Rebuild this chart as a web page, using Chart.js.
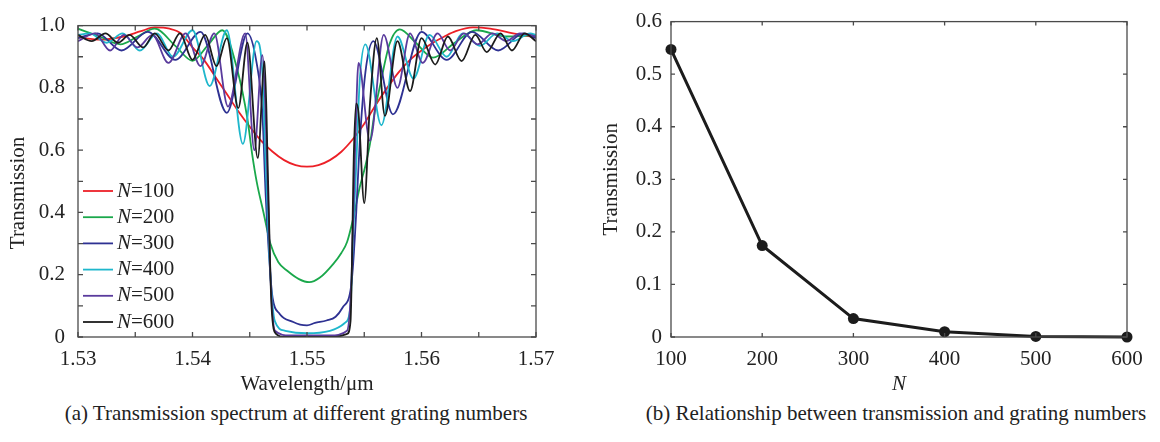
<!DOCTYPE html>
<html>
<head>
<meta charset="utf-8">
<script src="https://cdn.jsdelivr.net/npm/chart.js@4.4.1/dist/chart.umd.min.js"></script>
<style>
  body { margin: 0; background: #fff; width: 1160px; height: 442px; position: relative; overflow: hidden; font-family: "Liberation Serif", "Times New Roman", serif; }
  .panel { position: absolute; top: 0; width: 580px; height: 400px; }
  .cap { position: absolute; top: 401px; font-size: 21px; color: #222; white-space: nowrap; transform: translateX(-50%); }
</style>
</head>
<body>
<div class="panel" style="left:0"><canvas id="specChart" width="580" height="400"></canvas></div>
<div class="panel" style="left:580px"><canvas id="transChart" width="580" height="400"></canvas></div>
<div class="cap" style="left:296px">(a) Transmission spectrum at different grating numbers</div>
<div class="cap" style="left:896px">(b) Relationship between transmission and grating numbers</div>
<script>
// (a) spectra, wavelength in um
const wl100 = [1.5300, 1.5320, 1.5340, 1.5355, 1.5367, 1.5380, 1.5390, 1.5400, 1.5410, 1.5420, 1.5430, 1.5440, 1.5450, 1.5460, 1.5470, 1.5480, 1.5490, 1.5500, 1.5510, 1.5520, 1.5530, 1.5540, 1.5550, 1.5560, 1.5570, 1.5580, 1.5590, 1.5600, 1.5610, 1.5620, 1.5630, 1.5645, 1.5660, 1.5680, 1.5700];
const tr100 = [0.962, 0.955, 0.965, 0.982, 0.994, 0.990, 0.975, 0.930, 0.890, 0.835, 0.780, 0.725, 0.675, 0.630, 0.595, 0.568, 0.552, 0.547, 0.552, 0.568, 0.595, 0.635, 0.685, 0.745, 0.800, 0.850, 0.890, 0.920, 0.945, 0.965, 0.982, 0.994, 0.990, 0.975, 0.962];

const wl200 = [1.5300, 1.5319, 1.5337, 1.5352, 1.5367, 1.5385, 1.5400, 1.5414, 1.5426, 1.5439, 1.5448, 1.5452, 1.5456, 1.5462, 1.5468, 1.5475, 1.5483, 1.5493, 1.5502, 1.5511, 1.5523, 1.5530, 1.5535, 1.5540, 1.5546, 1.5551, 1.5555, 1.5559, 1.5564, 1.5572, 1.5581, 1.5595, 1.5610, 1.5629, 1.5648, 1.5674, 1.5700];
const tr200 = [0.990, 0.965, 0.940, 0.965, 0.990, 0.935, 0.887, 0.940, 0.985, 0.860, 0.700, 0.590, 0.500, 0.400, 0.300, 0.240, 0.212, 0.186, 0.176, 0.190, 0.235, 0.270, 0.305, 0.375, 0.480, 0.550, 0.620, 0.720, 0.810, 0.940, 0.988, 0.945, 0.897, 0.945, 0.985, 0.965, 0.970];

const wl300 = [1.5300, 1.5317, 1.5338, 1.5361, 1.5385, 1.5407, 1.5430, 1.5448, 1.5456, 1.5461, 1.5464, 1.5468, 1.5470, 1.5476, 1.5488, 1.5494, 1.5500, 1.5507, 1.5517, 1.5525, 1.5531, 1.5538, 1.5540, 1.5543, 1.5546, 1.5551, 1.5558, 1.5575, 1.5600, 1.5622, 1.5644, 1.5667, 1.5689, 1.5700];
const tr300 = [0.960, 0.975, 0.920, 0.980, 0.890, 0.980, 0.720, 0.975, 0.880, 0.720, 0.450, 0.200, 0.125, 0.075, 0.048, 0.040, 0.0375, 0.045, 0.053, 0.065, 0.094, 0.150, 0.220, 0.400, 0.620, 0.850, 0.950, 0.715, 0.980, 0.890, 0.980, 0.920, 0.975, 0.960];

const wl400 = [1.5300, 1.5310, 1.5325, 1.5339, 1.5354, 1.5369, 1.5383, 1.5400, 1.5415, 1.5430, 1.5444, 1.5456, 1.5461, 1.5464, 1.5468, 1.5472, 1.5481, 1.5500, 1.5520, 1.5533, 1.5538, 1.5540, 1.5543, 1.5546, 1.5551, 1.5565, 1.5579, 1.5593, 1.5607, 1.5622, 1.5636, 1.5651, 1.5666, 1.5680, 1.5695, 1.5700];
const tr400 = [0.970, 0.975, 0.945, 0.975, 0.920, 0.975, 0.900, 0.985, 0.806, 0.985, 0.620, 0.950, 0.850, 0.550, 0.200, 0.050, 0.020, 0.012, 0.020, 0.045, 0.100, 0.300, 0.550, 0.820, 0.940, 0.680, 0.965, 0.830, 0.970, 0.900, 0.975, 0.935, 0.975, 0.950, 0.975, 0.970];

const wl500 = [1.5300, 1.5315, 1.5328, 1.5340, 1.5352, 1.5365, 1.5379, 1.5394, 1.5407, 1.5419, 1.5431, 1.5446, 1.5454, 1.5461, 1.5464, 1.5468, 1.5472, 1.5485, 1.5520, 1.5535, 1.5539, 1.5542, 1.5545, 1.5555, 1.5567, 1.5579, 1.5590, 1.5601, 1.5614, 1.5625, 1.5637, 1.5649, 1.5662, 1.5674, 1.5686, 1.5700];
const tr500 = [0.950, 0.975, 0.920, 0.970, 0.930, 0.970, 0.880, 0.975, 0.870, 0.975, 0.740, 0.975, 0.600, 0.905, 0.700, 0.200, 0.020, 0.005, 0.005, 0.020, 0.200, 0.600, 0.880, 0.630, 0.970, 0.800, 0.975, 0.880, 0.975, 0.920, 0.975, 0.940, 0.975, 0.950, 0.975, 0.965];

const wl600 = [1.5300, 1.5312, 1.5324, 1.5335, 1.5345, 1.5357, 1.5367, 1.5379, 1.5389, 1.5400, 1.5411, 1.5421, 1.5430, 1.5440, 1.5448, 1.5457, 1.5463, 1.5466, 1.5469, 1.5473, 1.5481, 1.5524, 1.5535, 1.5538, 1.5541, 1.5543, 1.5545, 1.5550, 1.5555, 1.5561, 1.5568, 1.5579, 1.5590, 1.5600, 1.5612, 1.5623, 1.5635, 1.5647, 1.5657, 1.5669, 1.5679, 1.5690, 1.5700];
const tr600 = [0.970, 0.950, 0.975, 0.945, 0.970, 0.930, 0.975, 0.920, 0.975, 0.890, 0.970, 0.870, 0.960, 0.735, 0.945, 0.575, 0.885, 0.500, 0.100, 0.010, 0.000, 0.000, 0.010, 0.050, 0.600, 0.750, 0.720, 0.430, 0.750, 0.960, 0.710, 0.950, 0.790, 0.960, 0.875, 0.965, 0.886, 0.970, 0.915, 0.975, 0.920, 0.975, 0.950];

const seriesLabels = ['N=100', 'N=200', 'N=300', 'N=400', 'N=500', 'N=600'];
const seriesColors = ['#ec2027', '#1aa84b', '#2e3192', '#1fb7cc', '#5a3b9d', '#1c1c1c'];

// (b) transmission at the centre wavelength
const gratingN = [100, 200, 300, 400, 500, 600];
const centreT = [0.547, 0.174, 0.035, 0.010, 0.001, 0.000];

const xTicks = [1.53, 1.54, 1.55, 1.56, 1.57];

const FONT = '"Liberation Serif", "Times New Roman", serif';
const FS = 21;
const TXT = '#222';

function pts(xs, ys) {
  return xs.map((x, i) => ({ x: x, y: ys[i] }));
}

// inward tick marks on all four sides + box
const frameTicks = {
  id: 'frameTicks',
  afterDatasetsDraw(chart, args, opts) {
    const { ctx, chartArea: a } = chart;
    const sx = chart.scales.x, sy = chart.scales.y;
    const len = opts.len || 5;
    ctx.save();
    ctx.strokeStyle = '#4a4a4a';
    ctx.lineWidth = 1.3;
    ctx.beginPath();
    sx.ticks.forEach(t => {
      const px = sx.getPixelForValue(t.value);
      ctx.moveTo(px, a.bottom); ctx.lineTo(px, a.bottom - len);
      ctx.moveTo(px, a.top); ctx.lineTo(px, a.top + len);
    });
    sy.ticks.forEach(t => {
      const py = sy.getPixelForValue(t.value);
      ctx.moveTo(a.left, py); ctx.lineTo(a.left + len, py);
      ctx.moveTo(a.right, py); ctx.lineTo(a.right - len, py);
    });
    ctx.stroke();
    ctx.strokeRect(a.left, a.top, a.width, a.height);
    ctx.restore();
  }
};

// legend with italic N, and the y title (sits a bit low in the original)
const legendN = {
  id: 'legendN',
  afterDraw(chart) {
    const ctx = chart.ctx;
    const x0 = 83, y0 = 191, dy = 26.2;
    ctx.save();
    ctx.textBaseline = 'middle';
    chart.data.datasets.forEach((ds, i) => {
      const y = y0 + i * dy;
      ctx.strokeStyle = ds.borderColor;
      ctx.lineWidth = 1.8;
      ctx.beginPath();
      ctx.moveTo(x0, y); ctx.lineTo(x0 + 30, y);
      ctx.stroke();
      ctx.fillStyle = TXT;
      ctx.font = 'italic ' + FS + 'px ' + FONT;
      ctx.fillText('N', x0 + 34, y);
      const w = ctx.measureText('N').width;
      ctx.font = FS + 'px ' + FONT;
      ctx.fillText(ds.label.slice(1), x0 + 34 + w, y);
    });
    ctx.translate(18, 193);
    ctx.rotate(-Math.PI / 2);
    ctx.textAlign = 'center';
    ctx.fillStyle = TXT;
    ctx.font = FS + 'px ' + FONT;
    ctx.fillText('Transmission', 0, 0);
    ctx.restore();
  }
};

const specSets = [
  [wl100, tr100], [wl200, tr200], [wl300, tr300],
  [wl400, tr400], [wl500, tr500], [wl600, tr600]
].map((s, i) => ({
  label: seriesLabels[i],
  data: pts(s[0], s[1]),
  borderColor: seriesColors[i],
  borderWidth: 1.8,
  pointRadius: 0,
  cubicInterpolationMode: 'monotone',
  order: 5 - i
}));

new Chart(document.getElementById('specChart'), {
  type: 'line',
  data: { datasets: specSets },
  options: {
    responsive: false,
    animation: false,
    layout: { padding: { top: 17, right: 44, left: 0, bottom: 0 } },
    plugins: { legend: { display: false }, tooltip: { enabled: false }, frameTicks: { len: 5 } },
    scales: {
      x: {
        type: 'linear', min: 1.53, max: 1.57,
        grid: { display: false, drawTicks: false },
        border: { display: false },
        ticks: {
          stepSize: 0.005, autoSkip: false, maxRotation: 0, padding: 10,
          color: TXT, font: { family: FONT, size: FS },
          callback: v => {
            const k = Math.round(v * 1000);
            return xTicks.some(t => Math.round(t * 1000) === k) ? (k / 1000).toFixed(2) : '';
          }
        },
        title: { display: true, text: 'Wavelength/\u03bcm', color: TXT, font: { family: FONT, size: FS }, padding: { top: 0, bottom: 3 } },
        afterFit: s => { s.height = 63; }
      },
      y: {
        min: 0, max: 1,
        grid: { display: false, drawTicks: false },
        border: { display: false },
        ticks: {
          stepSize: 0.1, autoSkip: false, padding: 13,
          color: TXT, font: { family: FONT, size: FS },
          callback: (v, i) => (i % 2 ? '' : (v === 0 ? '0' : v.toFixed(1)))
        },
        title: { display: false },
        afterFit: s => { s.width = 78; }
      }
    }
  },
  plugins: [frameTicks, legendN]
});

new Chart(document.getElementById('transChart'), {
  type: 'line',
  data: {
    datasets: [{
      label: 'Transmission',
      data: pts(gratingN, centreT),
      borderColor: '#1c1c1c',
      backgroundColor: '#1c1c1c',
      borderWidth: 3,
      pointRadius: 5.5,
      pointBorderWidth: 0,
      tension: 0,
      clip: 8
    }]
  },
  options: {
    responsive: false,
    animation: false,
    layout: { padding: { top: 17, right: 33, left: 0, bottom: 0 } },
    plugins: { legend: { display: false }, tooltip: { enabled: false }, frameTicks: { len: 4 } },
    scales: {
      x: {
        type: 'linear', min: 100, max: 600,
        grid: { display: false, drawTicks: false },
        border: { display: false },
        ticks: { stepSize: 100, autoSkip: false, maxRotation: 0, padding: 10, color: TXT, font: { family: FONT, size: FS } },
        title: { display: true, text: 'N', color: TXT, font: { family: FONT, size: FS, style: 'italic' }, padding: { top: 0, bottom: 3 } },
        afterFit: s => { s.height = 63; }
      },
      y: {
        min: 0, max: 0.6,
        grid: { display: false, drawTicks: false },
        border: { display: false },
        ticks: {
          stepSize: 0.1, autoSkip: false, padding: 9, color: TXT, font: { family: FONT, size: FS },
          callback: v => (v === 0 ? '0' : v.toFixed(1))
        },
        title: { display: true, text: 'Transmission', color: TXT, font: { family: FONT, size: FS }, padding: { top: 19, bottom: 0 } },
        afterFit: s => { s.width = 91; }
      }
    }
  },
  plugins: [frameTicks]
});
</script>
</body>
</html>
